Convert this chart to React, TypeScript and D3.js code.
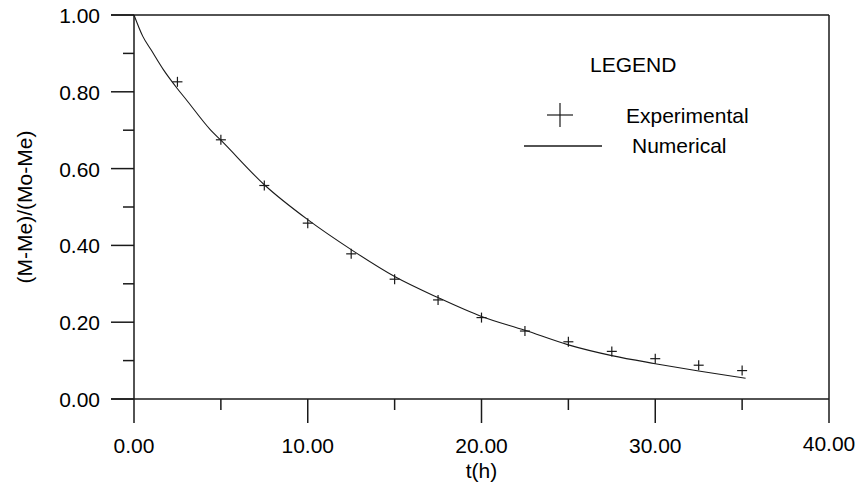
import React from 'react';
import * as d3 from 'd3';

// experimental measurements
const expTime = [2.5, 5, 7.5, 10, 12.5, 15, 17.5, 20, 22.5, 25, 27.5, 30, 32.5, 35];
const expValue = [0.826, 0.675, 0.556, 0.458, 0.378, 0.312, 0.258, 0.212, 0.177, 0.149, 0.124, 0.105, 0.088, 0.074];

// numerical solution
const numTime = [0, 0.5, 1, 1.7, 2.5, 3, 4.4, 5, 7.5, 10, 12.5, 15, 17.5, 20, 22.5, 25, 27.5, 30, 32.5, 35.2];
const numValue = [1.0, 0.945, 0.908, 0.857, 0.808, 0.78, 0.701, 0.674, 0.558, 0.467, 0.389, 0.319, 0.264, 0.215, 0.179, 0.141, 0.113, 0.092, 0.073, 0.054];

const xMajor = [0, 10, 20, 30, 40];
const xMinor = [5, 15, 25, 35];
const yMajor = [0, 0.2, 0.4, 0.6, 0.8, 1.0];
const yMinor = [0.1, 0.3, 0.5, 0.7, 0.9];

const W = 861;
const H = 489;
const margin = { top: 15, right: 32, bottom: 90, left: 134 };
const font = '"Liberation Sans", Arial, sans-serif';
const ink = '#1a1a1a';

export default function App() {
  const x = d3.scaleLinear().domain([0, 40]).range([margin.left, W - margin.right]);
  const y = d3.scaleLinear().domain([0, 1]).range([H - margin.bottom, margin.top]);

  const line = d3
    .line<number>()
    .x((_, i) => x(numTime[i]))
    .y(d => y(d))
    .curve(d3.curveMonotoneX);

  const x0 = x(0);
  const x1 = x(40);
  const y0 = y(0);
  const y1 = y(1);

  return (
    <svg
      width={W}
      height={H}
      style={{ position: 'absolute', left: 0, top: 0, background: '#fff' }}
      fontFamily={font}
    >
      {/* frame: left axis, bottom axis, top and right edges */}
      <g stroke={ink} strokeWidth={1.5} fill="none">
        <line x1={x0} x2={x0} y1={y1} y2={y0} />
        <line x1={x0 - 23} x2={x1} y1={y0} y2={y0} />
        <line x1={x0 - 23} x2={x1} y1={y1} y2={y1} />
        <line x1={x1} x2={x1} y1={y1} y2={y0} />
      </g>

      {/* y ticks */}
      <g stroke={ink} strokeWidth={1.5}>
        {yMajor.map(v => (
          <line key={'ym' + v} x1={x0 - 23} x2={x0} y1={y(v)} y2={y(v)} />
        ))}
        {yMinor.map(v => (
          <line key={'yn' + v} x1={x0 - 11} x2={x0} y1={y(v)} y2={y(v)} />
        ))}
      </g>
      <g fontSize={21} fill="#000" textAnchor="end">
        {yMajor.map(v => (
          <text key={'yl' + v} x={x0 - 34} y={y(v) + 8}>
            {v.toFixed(2)}
          </text>
        ))}
      </g>

      {/* x ticks */}
      <g stroke={ink} strokeWidth={1.5}>
        {xMajor.map(v => (
          <line key={'xm' + v} x1={x(v)} x2={x(v)} y1={y0} y2={y0 + 24} />
        ))}
        {xMinor.map(v => (
          <line key={'xn' + v} x1={x(v)} x2={x(v)} y1={y0} y2={y0 + 11} />
        ))}
      </g>
      <g fontSize={21} fill="#000" textAnchor="middle">
        {xMajor.map(v => (
          <text key={'xl' + v} x={x(v)} y={y0 + 54 - (v === 40 ? 2 : 0)}>
            {v.toFixed(2)}
          </text>
        ))}
      </g>

      {/* axis titles */}
      <text x={(x0 + x1) / 2} y={478} fontSize={21} textAnchor="middle">
        t(h)
      </text>
      <text
        transform={`translate(32, ${(y0 + y1) / 2}) rotate(-90)`}
        fontSize={21}
        textAnchor="middle"
      >
        (M-Me)/(Mo-Me)
      </text>

      {/* numerical curve */}
      <path d={line(numValue) || ''} fill="none" stroke={ink} strokeWidth={1.1} />

      {/* experimental points */}
      <g stroke={ink} strokeWidth={1.2}>
        {expValue.map((v, i) => {
          const cx = x(expTime[i]);
          const cy = y(v);
          return (
            <g key={'p' + i}>
              <line x1={cx - 5} x2={cx + 5} y1={cy} y2={cy} />
              <line x1={cx} x2={cx} y1={cy - 5} y2={cy + 5} />
            </g>
          );
        })}
      </g>

      {/* legend */}
      <g fontSize={21} fill="#000">
        <text x={590} y={72}>LEGEND</text>
        <g stroke={ink} strokeWidth={1.2}>
          <line x1={547} x2={573} y1={115} y2={115} />
          <line x1={560} x2={560} y1={103} y2={127} />
          <line x1={524} x2={602} y1={146} y2={146} strokeWidth={1.5} />
        </g>
        <text x={626} y={123}>Experimental</text>
        <text x={632} y={153}>Numerical</text>
      </g>
    </svg>
  );
}
